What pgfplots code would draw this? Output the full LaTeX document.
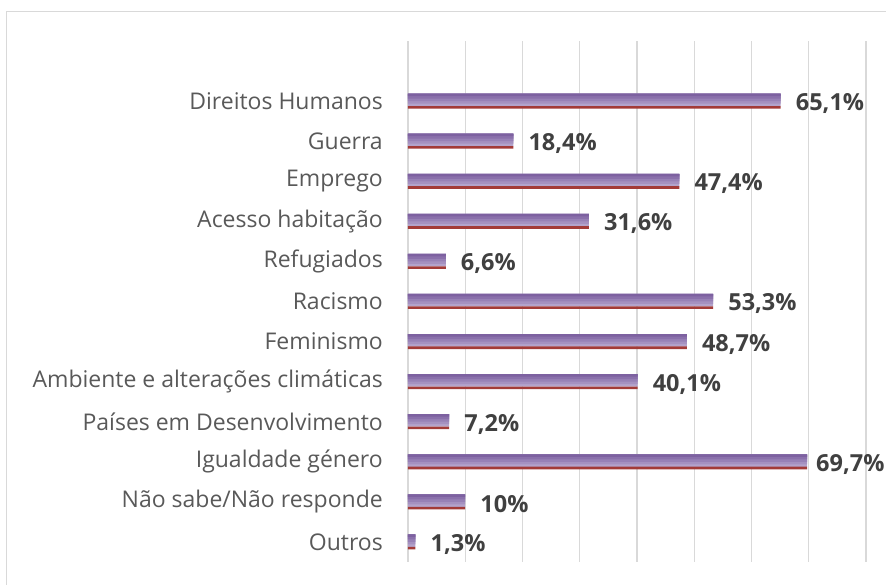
\documentclass[border=0pt]{standalone}
\usepackage{pgfplots}
\pgfplotsset{compat=1.18}
\usepackage{pgfplotstable}
\usepackage{fontspec}
\setmainfont{Open Sans}
\definecolor{barA}{HTML}{7D61A0}
\definecolor{barB}{HTML}{8A70AB}
\definecolor{barC}{HTML}{9781B6}
\definecolor{barD}{HTML}{A591C0}
\definecolor{barE}{HTML}{B3A3CB}
\definecolor{barRed}{HTML}{A33B38}
\definecolor{gridc}{HTML}{D9D9D9}
\definecolor{lab}{HTML}{595959}
\definecolor{val}{HTML}{404040}

\pgfplotstableread{
y v lbl dx
0 1.3 1,3 15
1 10 10 15
2 69.7 69,7 9
3 7.2 7,2 15
4 40.1 40,1 15
5 48.7 48,7 15
6 53.3 53,3 15
7 6.6 6,6 15
8 31.6 31,6 15
9 47.4 47,4 15
10 18.4 18,4 15
11 65.1 65,1 15
}\data

\begin{document}
\begin{tikzpicture}
\begin{axis}[
  scale only axis,
  width=458pt, height=521pt,
  xmin=0, xmax=80, ymin=-0.5, ymax=12.5,
  axis line style={draw=none},
  major tick length=0pt,
  xtick={0,10,...,80},
  xticklabels={},
  xmajorgrids,
  grid style={gridc, line width=1.2pt},
  ytick={0,...,11},
  yticklabels={Outros, Não sabe/Não responde, Igualdade género, Países em Desenvolvimento, Ambiente e alterações climáticas, Feminismo, Racismo, Refugiados, Acesso habitação, Emprego, Guerra, Direitos Humanos},
  yticklabel style={font=\fontsize{23}{25}\selectfont, text=lab, inner sep=0pt, xshift=-25pt, anchor=east},
  clip=false,
]
\addplot[xbar, bar width=12.5pt, bar shift=1.25pt, draw=none, fill=barE] table[x=v, y=y]{\data};
\addplot[xbar, bar width=10pt, bar shift=2.5pt, draw=none, fill=barD] table[x=v, y=y]{\data};
\addplot[xbar, bar width=7.5pt, bar shift=3.75pt, draw=none, fill=barC] table[x=v, y=y]{\data};
\addplot[xbar, bar width=5pt, bar shift=5pt, draw=none, fill=barB] table[x=v, y=y]{\data};
\addplot[xbar, bar width=2.5pt, bar shift=6.25pt, draw=none, fill=barA] table[x=v, y=y]{\data};
\addplot[xbar, bar width=2.6pt, bar shift=-6.2pt, draw=none, fill=barRed,
  point meta=explicit symbolic,
  visualization depends on={\thisrow{dx}\as\dx},
  nodes near coords={\pgfplotspointmeta\%},
  nodes near coords style={font=\bfseries\fontsize{23.5}{25}\selectfont, text=val, anchor=west, xshift=\dx pt, yshift=-2.5pt, inner sep=0pt},
] table[x=v, y=y, meta=lbl]{\data};
\end{axis}
\draw[gridc, line width=1pt] (-401pt,-40pt) -- (-401pt,550pt) -- (500pt,550pt);
\pgfresetboundingbox
\useasboundingbox (-408pt,-23pt) rectangle (478pt,562pt);
\end{tikzpicture}
\end{document}
